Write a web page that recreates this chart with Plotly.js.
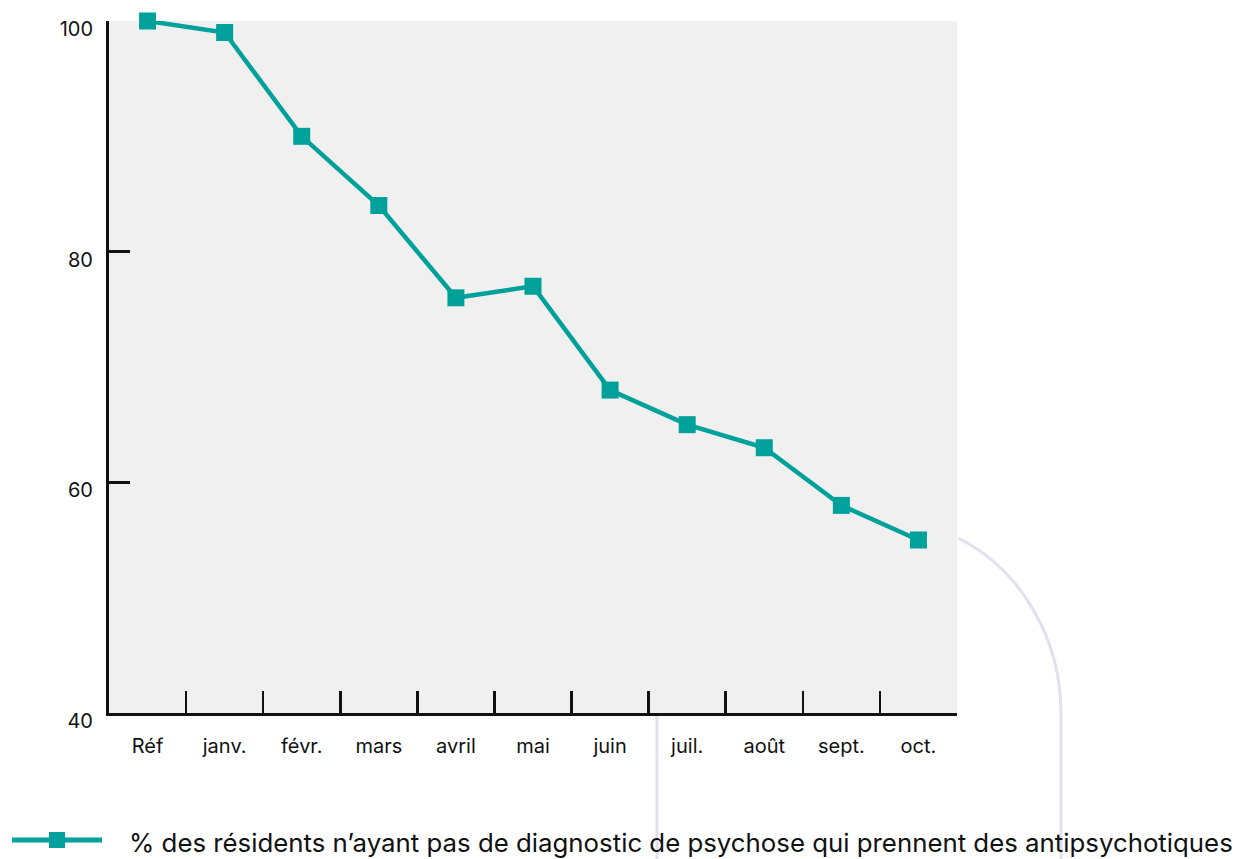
<!DOCTYPE html>
<html>
<head>
<meta charset="utf-8">
<script src="https://cdn.plot.ly/plotly-3.0.1.min.js"></script>
<style>html,body{margin:0;padding:0;background:#fff;}#chart{width:1241px;height:859px;}</style>
</head>
<body>
<div id="chart"></div>
<script>
const categories = ["Réf", "janv.", "févr.", "mars", "avril", "mai", "juin", "juil.", "août", "sept.", "oct."];
const values = [100, 99, 90, 84, 76, 77, 68, 65, 63, 58, 55];
const seriesName = "% des résidents n’ayant pas de diagnostic de psychose qui prennent des antipsychotiques";
const yTicks = [40, 60, 80, 100];

const teal = "#00a19a";
const lavender = "#e2e0f0";
const font = "Inter, 'Noto Sans', sans-serif";

// plot-area pixel geometry helpers for decorative shapes / legend
const L = 109, R = 957, T = 21, B = 713;
const px = x => (x - L) / (R - L);
const py = y => (B - y) / (B - T);

const trace = {
  x: categories,
  y: values,
  type: "scatter",
  mode: "lines+markers",
  name: seriesName,
  line: {color: teal, width: 4.5},
  marker: {color: teal, symbol: "square", size: 17},
  cliponaxis: false,
  showlegend: false
};

const legendY = 840;

const layout = {
  width: 1241, height: 859,
  margin: {l: L, r: 1241 - R, t: T, b: 859 - B},
  paper_bgcolor: "#ffffff",
  plot_bgcolor: "#f0f0f0",
  font: {family: font, color: "#111", size: 20},
  showlegend: false,
  xaxis: {
    type: "category", range: [-0.5, 10.5], showgrid: false, zeroline: false, automargin: false,
    showline: true, linecolor: "#111", linewidth: 3,
    ticks: "inside", tickson: "boundaries", ticklen: 22, tickwidth: 2.5, tickcolor: "#111",
    ticklabelstandoff: 13, tickfont: {size: 20}
  },
  yaxis: {
    range: [40, 100], tickvals: yTicks, showgrid: false, zeroline: false, automargin: false,
    showline: true, linecolor: "#111", linewidth: 3,
    ticks: "inside", ticklen: 21, tickwidth: 2.5, tickcolor: "#111",
    ticklabelstandoff: 9, ticklabelshift: 8, tickfont: {size: 20}
  },
  shapes: [
    {type: "line", xref: "paper", yref: "paper", x0: px(657), x1: px(657), y0: py(715), y1: py(870),
     line: {color: lavender, width: 3}, layer: "below"},
    {type: "path", xref: "paper", yref: "paper",
     path: `M${px(958)},${py(538)} C${px(1022)},${py(570)} ${px(1061)},${py(640)} ${px(1061)},${py(713)} L${px(1061)},${py(870)}`,
     line: {color: lavender, width: 3}, layer: "below"},
    // legend sample: line + square marker
    {type: "line", xref: "paper", yref: "paper", x0: px(12), x1: px(102), y0: py(legendY), y1: py(legendY),
     line: {color: teal, width: 5}},
    {type: "rect", xref: "paper", yref: "paper", x0: px(49), x1: px(65), y0: py(legendY - 8), y1: py(legendY + 8),
     fillcolor: teal, line: {width: 0}}
  ],
  annotations: [
    {xref: "paper", yref: "paper", x: px(127), y: py(legendY + 2), xanchor: "left", yanchor: "middle",
     text: seriesName, showarrow: false, font: {size: 25.8, color: "#111", family: font}}
  ]
};

Plotly.newPlot("chart", [trace], layout, {displayModeBar: false, staticPlot: true});
</script>
</body>
</html>
